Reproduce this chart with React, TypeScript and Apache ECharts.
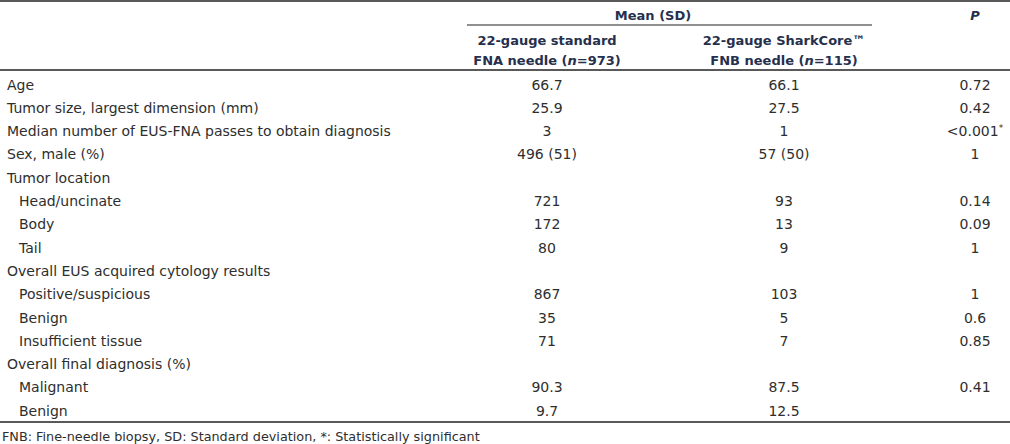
import React, { useEffect, useRef } from "react";
import * as echarts from "echarts";

const rowLabels = [
  "Age",
  "Tumor size, largest dimension (mm)",
  "Median number of EUS-FNA passes to obtain diagnosis",
  "Sex, male (%)",
  "Tumor location",
  "Head/uncinate",
  "Body",
  "Tail",
  "Overall EUS acquired cytology results",
  "Positive/suspicious",
  "Benign",
  "Insufficient tissue",
  "Overall final diagnosis (%)",
  "Malignant",
  "Benign",
];
const rowIndent = [0, 0, 0, 0, 0, 1, 1, 1, 0, 1, 1, 1, 0, 1, 1];
const standardValues = ["66.7", "25.9", "3", "496 (51)", "", "721", "172", "80", "", "867", "35", "71", "", "90.3", "9.7"];
const sharkCoreValues = ["66.1", "27.5", "1", "57 (50)", "", "93", "13", "9", "", "103", "5", "7", "", "87.5", "12.5"];
const pValues = ["0.72", "0.42", "<0.001{sup|*}", "1", "", "0.14", "0.09", "1", "", "1", "0.6", "0.85", "", "0.41", ""];
const headerGroup = "Mean (SD)";
const headerP = "P";
const headerCol1 = ["22-gauge standard", "FNA needle ({i|n}=973)"];
const headerCol2 = ["22-gauge SharkCore™", "FNB needle ({i|n}=115)"];
const footnote = "FNB: Fine-needle biopsy, SD: Standard deviation, *: Statistically significant";

const FONT = "'DejaVu Sans', Verdana, sans-serif";
const BODY_COLOR = "#2e2e2e";
const HEAD_COLOR = "#26304d";

export default function App() {
  const ref = useRef<HTMLDivElement>(null);
  useEffect(() => {
    document.body.style.margin = "0";
    const chart = echarts.init(ref.current!, null, { renderer: "svg" });
    const W = 1010;
    const col1X = 547;
    const col2X = 784;
    const pX = 975;
    const rowY0 = 84.5;
    const rowStep = 23.3;
    const els: any[] = [];
    const line = (x1: number, x2: number, y: number, w = 1.4) =>
      els.push({ type: "line", shape: { x1, y1: y, x2, y2: y }, style: { stroke: "#222", lineWidth: w } });
    const text = (t: string, x: number, y: number, align: string, opts: any = {}) =>
      els.push({
        type: "text",
        x,
        y,
        style: {
          text: t,
          fontSize: 14,
          fontFamily: FONT,
          fill: BODY_COLOR,
          textAlign: align,
          textVerticalAlign: "middle",
          ...opts,
        },
      });

    line(0, W, 1);
    line(467, 872, 25, 1.2);
    line(0, W, 70);
    line(0, W, 422);

    const headOpts = {
      fontWeight: "bold",
      fill: HEAD_COLOR,
      fontSize: 13,
      rich: { i: { fontStyle: "italic", fontWeight: "bold", fill: HEAD_COLOR, fontSize: 13, fontFamily: FONT } },
    };
    text(headerGroup, 653, 15, "center", headOpts);
    text(headerP, pX, 15, "center", { ...headOpts, fontStyle: "italic" });
    headerCol1.forEach((t, i) => text(t, col1X, 40 + i * 20, "center", headOpts));
    headerCol2.forEach((t, i) => text(t, col2X, 40 + i * 20, "center", headOpts));

    rowLabels.forEach((lab, i) => {
      const y = rowY0 + i * rowStep;
      text(lab, rowIndent[i] ? 19 : 7, y, "left");
      if (standardValues[i]) text(standardValues[i], col1X, y, "center");
      if (sharkCoreValues[i]) text(sharkCoreValues[i], col2X, y, "center");
      if (pValues[i])
        text(pValues[i], pX, y, "center", {
          rich: { sup: { fontSize: 9, fill: BODY_COLOR, fontFamily: FONT, padding: [0, 0, 6, 0] } },
        });
    });

    text(footnote, 2, 436, "left", { fontSize: 12.8 });

    chart.setOption({ animation: false, graphic: { elements: els } });
    return () => chart.dispose();
  }, []);
  return <div ref={ref} style={{ width: 1010, height: 444, background: "#fff" }} />;
}
